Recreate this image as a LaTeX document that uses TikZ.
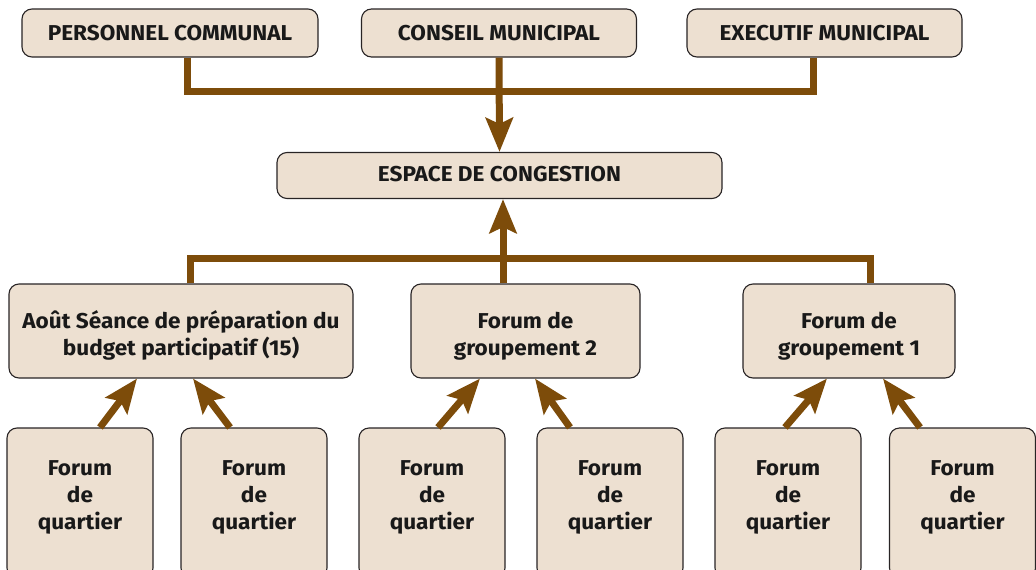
\documentclass[tikz,border=0pt]{standalone}
\usepackage{fontspec}
\setmainfont[FakeStretch=1.05]{Fira Sans}
\usetikzlibrary{arrows.meta,calc}
\definecolor{boxfill}{RGB}{237,224,209}
\definecolor{boxline}{RGB}{40,36,37}
\definecolor{brown}{RGB}{125,76,10}
\begin{document}
\begin{tikzpicture}[x=1pt,y=-1pt,
  box/.style={draw=boxline,line width=1.1pt,fill=boxfill,rounded corners=10pt,
    inner sep=0pt,align=center,font=\bfseries\fontsize{21.5}{27}\selectfont,text=black!90},
  conn/.style={draw=brown,line width=7pt},
  arr/.style={conn,-{Stealth[length=34pt,width=27pt,inset=6pt]}},
]
\useasboundingbox (0,0) rectangle (1036,570);
\clip (0,0) rectangle (1036,570);
% top row
\node[box,minimum width=296pt,minimum height=48pt] (pc) at (170,33) {PERSONNEL COMMUNAL};
\node[box,minimum width=275pt,minimum height=48pt] (cm) at (499,33) {CONSEIL MUNICIPAL};
\node[box,minimum width=275pt,minimum height=48pt] (ex) at (824.5,33) {EXECUTIF MUNICIPAL};
\node[box,minimum width=445pt,minimum height=46pt] (es) at (499.5,175.5) {ESPACE DE CONGESTION\\[-24pt]\mbox{}};
% middle row
\node[box,minimum width=344pt,minimum height=94pt] (ap) at (181,331) {\rule{0pt}{26pt}Août Séance de préparation du\\budget participatif (15)};
\node[box,minimum width=229pt,minimum height=94pt] (g2) at (525.5,331) {\rule{0pt}{26pt}Forum de\\groupement 2};
\node[box,minimum width=212pt,minimum height=94pt] (g1) at (849,331) {\rule{0pt}{26pt}Forum de\\groupement 1};
% bottom row
\foreach \n/\x in {q1/80,q2/254,q3/432,q4/610,q5/788,q6/962.5}{
  \node[box,minimum width=146pt,minimum height=150pt] (\n) at (\x,503) {Forum\\de\\quartier\\[-11pt]\mbox{}};
}
% top connectors
\coordinate (hl) at (0,91);
\coordinate (pcx) at (187,0);
\coordinate (exx) at (813,0);
\draw[conn] (pc.south -| pcx) -- (pcx |- hl) -- (exx |- hl) -- (ex.south -| exx);
\draw[arr] (cm.south) -- (es.north);
% middle connectors
\coordinate (ml) at (0,258);
\coordinate (apx) at (190,0);
\coordinate (g1x) at (870,0);
\coordinate (g2x) at (503,0);
\draw[conn] (ap.north -| apx) -- (apx |- ml) -- (g1x |- ml) -- (g1.north -| g1x);
\draw[arr] (g2.north -| g2x) -- (es.south -| g2x);
% bottom arrows
\draw[arr] ([xshift=20pt]q1.north) -- ([xshift=-44pt]ap.south);
\draw[arr] ([xshift=-24pt]q2.north) -- ([xshift=12pt]ap.south);
\draw[arr] ([xshift=6pt]q3.north) -- ([xshift=-45.5pt]g2.south);
\draw[arr] ([xshift=-40pt]q4.north) -- ([xshift=9.5pt]g2.south);
\draw[arr] ([xshift=-3pt]q5.north) -- ([xshift=-22pt]g1.south);
\draw[arr] ([xshift=-42.5pt]q6.north) -- ([xshift=34pt]g1.south);
\end{tikzpicture}
\end{document}
